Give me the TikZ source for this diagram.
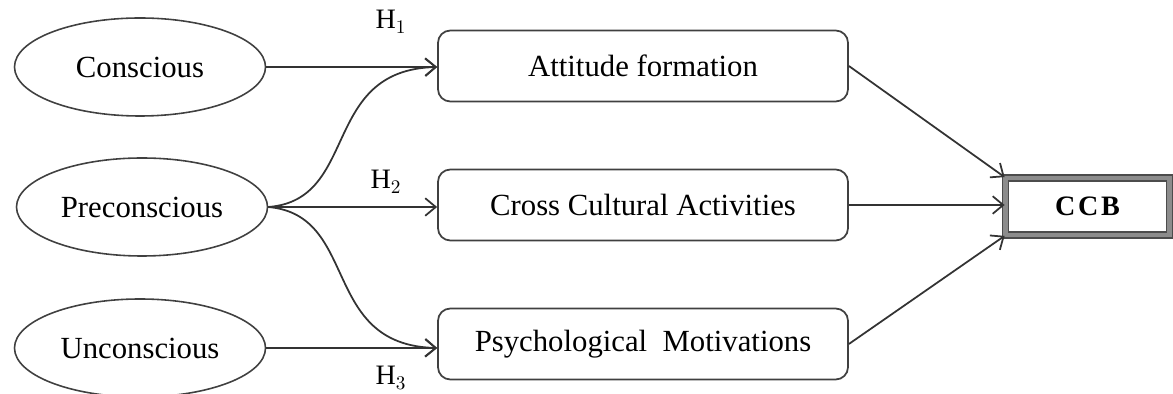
\documentclass[tikz,border=0pt]{standalone}
\usepackage{fontspec}
\setmainfont{Liberation Serif}
\usetikzlibrary{arrows.meta,shapes.geometric}
\begin{document}
\begin{tikzpicture}[x=0.02cm,y=-0.02cm,
  lat/.style={draw=black!75,line width=0.9pt,ellipse,minimum width=251*0.02cm,minimum height=98*0.02cm,font=\fontsize{17.5}{20}\selectfont,inner sep=0pt},
  obs/.style={draw=black!75,line width=1pt,rounded corners=7pt,minimum width=410*0.02cm,minimum height=71*0.02cm,font=\fontsize{17.5}{20}\selectfont,inner sep=0pt},
  conn/.style={draw=black!80,line width=1pt,-{Straight Barb[length=6pt,width=10pt]}},
  hl/.style={font=\fontsize{16}{18}\selectfont,inner sep=0pt}]
\useasboundingbox (0,0) rectangle (1173,394);
\node[lat] (con) at (140,67) {Conscious};
\node[lat] (pre) at (142,207) {Preconscious};
\node[lat] (unc) at (140,348) {Unconscious};
\node[obs] (att) at (643,66) {Attitude formation};
\node[obs] (cca) at (643,205) {Cross Cultural Activities};
\node[obs] (psy) at (643,344) {Psychological\ \ Motivations};
\node[draw=black!70,line width=1pt,double=black!45,double distance=2.5pt,minimum width=164*0.02cm,minimum height=57*0.02cm,inner sep=0pt,font=\bfseries\fontsize{16}{20}\selectfont] (ccb) at (1087.5,206.5) {C\kern1.5pt C\kern1.5pt B};
\node[hl] (h1) at (391,22) {H$_1$};
\node[hl] (h2) at (386,182) {H$_2$};
\node[hl] (h3) at (391,378) {H$_3$};
\draw[conn] (con.east) -- (con.east -| att.west);
\draw[conn] (pre.east) -- (pre.east -| cca.west);
\draw[conn] (unc.east) -- (unc.east -| psy.west);
\draw[conn] (pre.east) .. controls (360,200) and (320,70) .. (con.east -| att.west);
\draw[conn] (pre.east) .. controls (360,215) and (320,345) .. (unc.east -| psy.west);
\draw[conn] (att.east) -- (ccb.north west);
\draw[conn] (cca.east) -- (cca.east -| ccb.west);
\draw[conn] (psy.east) -- (ccb.south west);
\end{tikzpicture}
\end{document}
